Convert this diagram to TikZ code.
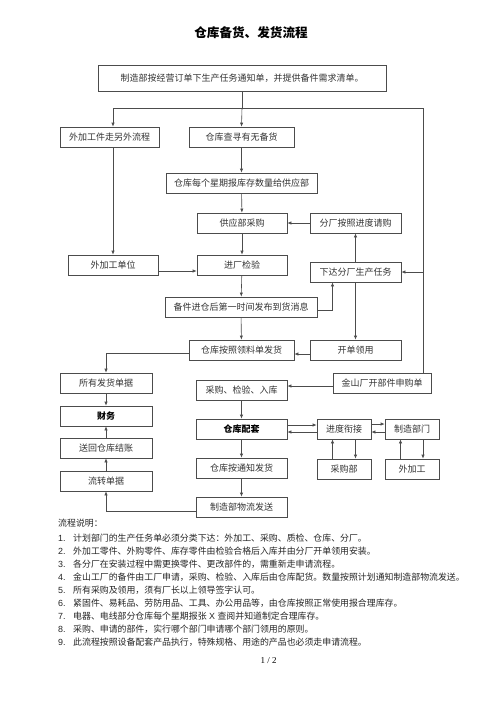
\documentclass[tikz,border=0pt]{standalone}
\usepackage{fontspec}
\setmainfont{Noto Sans CJK SC}
\newfontfamily\numfont{Liberation Sans}
\newfontfamily\pgnumfont{Liberation Serif}
\usetikzlibrary{arrows.meta}
\begin{document}
\begin{tikzpicture}[x=1pt,y=-1pt,
  box/.style={draw=black!70, line width=0.6pt, inner sep=0pt, minimum height=20pt,
    font=\fontsize{9}{10}\selectfont, text=black!80},
  arr/.style={draw=black!70, line width=0.6pt, -{Latex[length=4pt,width=3.2pt]}},
  ln/.style={draw=black!70, line width=0.6pt},
  notenum/.style={anchor=base west, inner sep=0pt, font=\numfont\fontsize{8.9}{10}\selectfont, text=black!85},
  note/.style={anchor=base west, inner sep=0pt, font=\fontsize{8.9}{10}\selectfont, text=black!85}]
\useasboundingbox (0,0) rectangle (500,707);
\fill[white] (0,0) rectangle (500,707);

% title
\node[font=\bfseries\fontsize{12.6}{14}\selectfont] (title) at (251,33) {仓库备货、发货流程};

% boxes
\node[box, minimum width=288pt, minimum height=26pt] (top) at (242,78) {制造部按经营订单下生产任务通知单，并提供备件需求清单。};
\node[box, minimum width=99pt] (wjlc) at (109.5,137) {外加工件走另外流程};
\node[box, minimum width=105pt] (ck) at (241.5,137) {仓库查寻有无备货};
\node[box, minimum width=151pt] (wk) at (241.5,183) {仓库每个星期报库存数量给供应部};
\node[box, minimum width=90pt] (gy) at (242,223) {供应部采购};
\node[box, minimum width=91pt] (fc) at (355.5,223) {分厂按照进度请购};
\node[box, minimum width=90pt] (wjdw) at (113,265) {外加工单位};
\node[box, minimum width=90pt] (jc) at (242,265) {进厂检验};
\node[box, minimum width=91pt] (xd) at (355.5,272) {下达分厂生产任务};
\node[box, minimum width=152pt] (bj) at (241,307) {备件进仓后第一时间发布到货消息};
\node[box, minimum width=105pt] (fh) at (241.5,350) {仓库按照领料单发货};
\node[box, minimum width=91pt] (kd) at (355.5,350) {开单领用};
\node[box, minimum width=92pt] (sy) at (106,383) {所有发货单据};
\node[box, minimum width=98pt] (js) at (382,383) {金山厂开部件申购单};
\node[box, minimum width=91pt] (cg) at (241.5,390) {采购、检验、入库};
\node[box, minimum width=92pt, font=\bfseries\fontsize{9}{10}\selectfont, text=black] (cw) at (106,416) {财务};
\node[box, minimum width=91pt, font=\bfseries\fontsize{9}{10}\selectfont, text=black] (pt) at (241.5,429) {仓库配套};
\node[box, minimum width=54pt] (jd) at (344,429) {进度衔接};
\node[box, minimum width=54pt] (zz) at (412,429) {制造部门};
\node[box, minimum width=92pt] (sh) at (106,448) {送回仓库结账};
\node[box, minimum width=91pt] (tz) at (241.5,468) {仓库按通知发货};
\node[box, minimum width=54pt] (cgb) at (344,469) {采购部};
\node[box, minimum width=54pt] (wjg) at (412,469) {外加工};
\node[box, minimum width=92pt] (lz) at (106,481) {流转单据};
\node[box, minimum width=91pt] (wl) at (241.5,507) {制造部物流发送};

% junctions
\coordinate (jL) at (113,108);
\coordinate (jM) at (242,108);
\coordinate (jR) at (423,108);

\draw[ln] (top.south) -- (jM);
\draw[ln] (jL) -- (jR);
\draw[arr] (jL) -- (jL |- wjlc.north);
\draw[arr] (jM) -- (ck.north);
\draw[ln] (jR) -- (jR |- js.north);
\draw[arr] (jR |- xd.east) -- (xd.east);

\draw[arr] (wjdw.north |- wjlc.south) -- (wjdw.north);
\draw[arr] (ck) -- (wk);
\draw[arr] (wk) -- (gy);
\draw[arr] (gy) -- (jc);
\draw[arr] (jc) -- (bj);
\draw[arr] (bj) -- (fh);
\draw[arr] (fc) -- (gy);
\draw[arr] (xd) -- (fc);
\draw[arr] ([yshift=-6pt]wjdw.east) -- ([yshift=-6pt]jc.west);
\draw[arr] ([yshift=-3pt]bj.east) -| ([xshift=-23pt]xd.south);
\draw[arr] (xd) -- (kd);
\draw[arr] ([yshift=-4pt]kd.west) -- ([yshift=-4pt]fh.east);
\draw[arr] ([yshift=-3pt]fh.west) -| (sy.north);
\draw[arr] (sy) -- (cw);
\draw[arr] (sh) -- (cw);
\draw[arr] (lz) -- (sh);
\draw[arr] ([yshift=-4pt]wl.west) -| (lz.south);
\draw[arr] ([yshift=-3pt]js.west) -- ([yshift=-3pt]js.west -| cg.east);
\draw[arr] (cg) -- (pt);
\draw[arr] (pt) -- (tz);
\draw[arr] (tz) -- (wl);
\draw[arr] ([yshift=4pt]pt.east) -- ([yshift=4pt]jd.west);
\draw[arr] ([yshift=-3pt]jd.west) -- ([yshift=-3pt]pt.east);
\draw[arr] ([yshift=5pt]jd.east) -- ([yshift=5pt]zz.west);
\draw[arr] ([yshift=-3pt]zz.west) -- ([yshift=-3pt]jd.east);
\draw[arr] ([xshift=-11.5pt]cgb.north) -- ([xshift=-11.5pt]jd.south);
\draw[arr] ([xshift=11.5pt]jd.south) -- ([xshift=11.5pt]cgb.north);
\draw[arr] ([xshift=-11.5pt]wjg.north) -- ([xshift=-11.5pt]zz.south);
\draw[arr] ([xshift=11pt]zz.south) -- ([xshift=11pt]wjg.north);

% notes
\node[note] (nh) at (58,526.5) {流程说明：};
\node[notenum] (n1) at (58,541.5) {1.};
\node[note] (t1) at (73,541.5) {计划部门的生产任务单必须分类下达：外加工、采购、质检、仓库、分厂。};
\node[notenum] (n2) at (58,554.5) {2.};
\node[note] (t2) at (73,554.5) {外加工零件、外购零件、库存零件由检验合格后入库并由分厂开单领用安装。};
\node[notenum] (n3) at (58,567.5) {3.};
\node[note] (t3) at (73,567.5) {各分厂在安装过程中需更换零件、更改部件的，需重新走申请流程。};
\node[notenum] (n4) at (58,580.5) {4.};
\node[note] (t4) at (73,580.5) {金山工厂的备件由工厂申请，采购、检验、入库后由仓库配货。数量按照计划通知制造部物流发送。};
\node[notenum] (n5) at (58,593.5) {5.};
\node[note] (t5) at (73,593.5) {所有采购及领用，须有厂长以上领导签字认可。};
\node[notenum] (n6) at (58,606.5) {6.};
\node[note] (t6) at (73,606.5) {紧固件、易耗品、劳防用品、工具、办公用品等，由仓库按照正常使用报合理库存。};
\node[notenum] (n7) at (58,619.5) {7.};
\node[note] (t7) at (73,619.5) {电器、电线部分仓库每个星期报张{\numfont\ X\ }查阅并知道制定合理库存。};
\node[notenum] (n8) at (58,632.5) {8.};
\node[note] (t8) at (73,632.5) {采购、申请的部件，实行哪个部门申请哪个部门领用的原则。};
\node[notenum] (n9) at (58,645.5) {9.};
\node[note] (t9) at (73,645.5) {此流程按照设备配套产品执行，特殊规格、用途的产品也必须走申请流程。};

\node[font=\pgnumfont\fontsize{9}{10}\selectfont] (pg) at (268.5,661) {1 / 2};
\end{tikzpicture}
\end{document}
